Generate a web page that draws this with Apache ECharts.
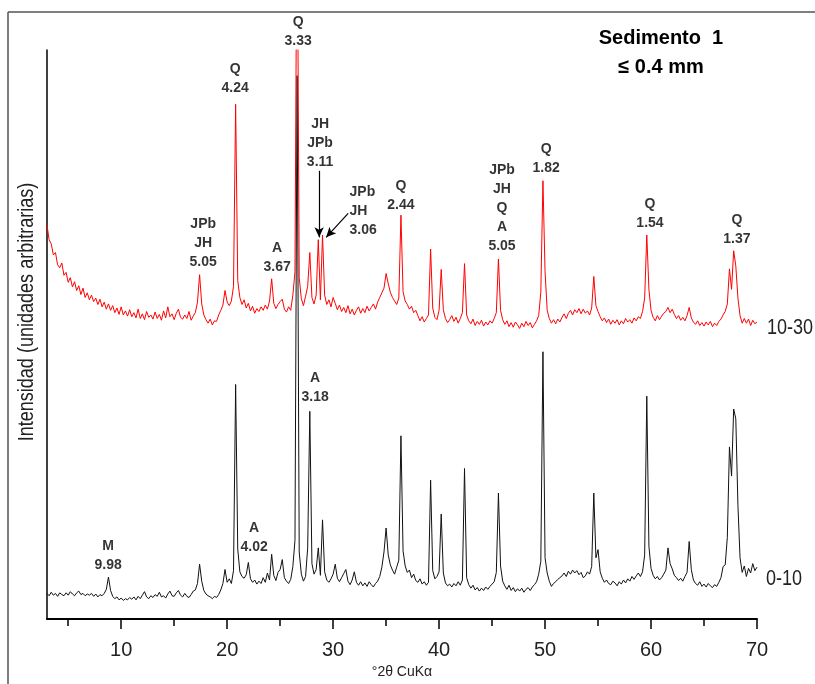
<!DOCTYPE html>
<html>
<head>
<meta charset="utf-8">
<script src="https://cdn.jsdelivr.net/npm/echarts@6/dist/echarts.min.js"></script>
<style>
  html, body { margin: 0; padding: 0; background: #fff; }
  #xrd { width: 815px; height: 684px; }
</style>
</head>
<body>
<div id="xrd"></div>
<script>
// 2θ scan: 3.0° .. 70.0°, one reading every 0.2°
const thetaStart = 3.0
const thetaStep = 0.2

// muestra 0-10 (negro), intensidad arbitraria
const intensity0to10 = [
  6.9, 6.5, 7.1, 6.6, 6.9, 6.4, 7.0, 6.7, 6.5, 7.0,
  6.6, 7.2, 6.8, 6.5, 7.0, 7.3, 6.7, 6.9, 6.5, 6.8,
  6.6, 6.9, 6.4, 6.8, 6.3, 6.7, 6.5, 6.9, 7.6, 9.7,
  7.4, 6.4, 6.0, 6.3, 5.8, 6.1, 5.7, 6.0, 5.8, 6.2,
  5.9, 6.3, 5.8, 6.4, 6.0, 6.6, 7.2, 6.3, 6.0, 6.5,
  6.2, 6.7, 6.4, 7.1, 6.3, 6.5, 6.1, 6.8, 7.3, 6.5,
  6.4, 7.0, 7.4, 6.6, 6.3, 6.9, 6.4, 6.2, 6.7, 7.3,
  7.5, 8.6, 11.9, 9.0, 7.4, 6.8, 6.5, 6.3, 6.0, 6.4,
  6.2, 6.7, 7.5, 8.6, 11.0, 8.8, 9.4, 8.6, 10.8, 42.7,
  14.5, 10.6, 9.8, 9.5, 10.1, 12.2, 9.4, 8.8, 9.2, 8.5,
  9.0, 8.6, 9.6, 8.8, 10.4, 9.2, 13.6, 10.0, 9.1, 10.5,
  11.0, 12.7, 9.6, 9.0, 8.6, 9.3, 11.5, 16.0, 95.6, 14.0,
  10.2, 9.0, 9.8, 14.7, 38.1, 12.0, 10.2, 11.0, 14.7, 10.0,
  19.5, 10.6, 9.2, 8.8, 9.4, 10.2, 11.9, 9.5, 8.9, 9.6,
  10.3, 11.0, 9.0, 8.4, 9.2, 10.6, 8.8, 8.3, 8.9, 8.2,
  8.7, 8.1, 8.9, 8.4, 8.0, 8.6, 9.0, 9.8, 11.4, 14.0,
  18.1, 13.5, 11.8, 10.9, 10.2, 11.4, 12.6, 33.9, 14.2, 11.6,
  10.5, 10.9, 9.6, 10.2, 9.1, 8.8, 9.4, 8.5, 8.9, 8.3,
  8.8, 26.3, 10.8, 9.4, 9.8, 10.6, 20.5, 10.4, 8.7, 8.2,
  8.5, 8.0, 8.6, 8.2, 8.9, 8.3, 9.2, 28.3, 9.6, 8.4,
  7.8, 8.3, 7.5, 7.9, 7.3, 7.8, 7.4, 8.0, 7.6, 8.1,
  8.5, 8.9, 10.5, 24.1, 11.6, 9.0, 8.2, 7.6, 8.3, 7.4,
  7.9, 7.2, 7.7, 7.3, 7.8, 7.1, 7.6, 7.9, 7.4, 8.0,
  8.4, 8.9, 10.2, 12.4, 48.3, 13.0, 10.4, 9.0, 8.1, 8.6,
  8.9, 9.3, 9.6, 9.9, 10.4, 9.8, 10.7, 10.2, 10.9, 10.4,
  10.8, 10.1, 10.5, 9.6, 9.9, 10.6, 10.2, 11.5, 24.1, 13.0,
  14.4, 10.6, 9.5, 8.8, 9.2, 8.6, 8.4, 9.0, 8.7, 8.2,
  8.9, 8.5, 9.2, 8.7, 9.4, 9.0, 9.8, 9.3, 9.9, 10.4,
  9.8, 10.6, 13.5, 40.7, 15.0, 11.2, 10.0, 9.4, 9.8, 9.2,
  9.6, 10.2, 10.9, 14.7, 12.0, 11.1, 10.0, 9.6, 9.1, 9.5,
  9.0, 9.8, 10.5, 15.8, 11.0, 9.2, 8.6, 8.3, 8.9, 8.1,
  8.5, 8.0, 8.6, 8.2, 7.9, 8.4, 8.1, 8.8, 9.6, 11.5,
  11.8, 16.5, 32.0, 27.0, 38.5, 36.8, 22.0, 13.0, 10.5, 11.6,
  9.8, 11.2, 10.4, 12.0, 10.8, 11.4
]

// muestra 10-30 (rojo), desplazada hacia arriba en el gráfico
const intensity10to30 = [
  70.0, 67.5, 66.8, 64.9, 65.3, 63.2, 62.7, 63.5, 61.4, 61.9,
  60.2, 61.0, 59.4, 60.3, 58.8, 59.6, 58.1, 59.2, 57.6, 58.4,
  57.2, 58.0, 56.9, 57.5, 56.4, 57.3, 56.0, 56.8, 55.6, 56.5,
  55.4, 56.2, 55.0, 55.8, 54.7, 56.0, 54.6, 55.3, 54.4, 55.5,
  54.3, 55.0, 54.1, 55.6, 54.0, 54.8, 53.8, 55.2, 54.2, 54.6,
  53.9, 55.1, 54.0, 54.7, 53.7, 55.3, 54.1, 56.0, 54.3, 54.8,
  53.8, 54.9, 55.6, 54.2, 53.9, 54.6, 54.0, 55.2, 53.7, 54.4,
  55.0, 56.8, 61.5, 56.5, 54.6, 53.8, 53.2, 53.9, 52.9, 53.6,
  53.5, 54.6, 55.4, 56.3, 58.8, 56.8, 56.2, 57.0, 59.5, 90.7,
  60.5, 57.6, 56.4, 57.2, 55.8, 56.6, 55.3, 56.1, 54.9, 55.7,
  55.2, 56.0, 55.4, 56.3, 55.6, 57.0, 60.8, 56.6, 55.7, 56.4,
  56.9, 57.3, 55.6, 55.1, 56.0, 55.4, 58.0, 62.0, 130, 61.0,
  57.4, 56.2, 57.8, 59.5, 65.3, 57.6, 56.5, 58.0, 67.5, 57.2,
  68.3, 58.0, 56.4, 57.2, 56.0, 57.6, 56.6, 55.5, 56.3, 55.2,
  55.9, 55.0, 56.2, 54.8, 55.6, 54.6, 55.4, 56.0, 54.9, 55.7,
  55.0, 56.1, 55.3, 55.9, 56.5, 55.6, 56.8, 57.6, 58.4, 59.2,
  61.7, 60.0, 58.5, 57.6, 57.0, 56.4, 57.5, 71.7, 58.6, 57.0,
  56.4, 55.6, 56.1, 55.0, 55.4, 54.5, 53.6, 54.3, 53.4, 54.0,
  54.6, 65.9, 55.8, 54.2, 53.8, 55.4, 62.4, 55.5, 54.0, 53.3,
  53.8, 54.5, 53.5, 54.2, 53.2, 54.0, 55.0, 63.4, 54.6, 53.6,
  53.1, 53.9, 52.8, 53.5, 53.0, 53.7, 52.7, 53.4, 52.9, 53.6,
  53.2, 54.0, 55.0, 64.2, 55.4, 53.8, 53.0, 53.6, 52.6, 53.3,
  52.5, 53.4, 52.9, 52.3, 53.2, 52.6, 53.5, 52.8, 53.3, 52.4,
  53.0, 53.6, 54.5, 58.5, 77.6, 62.0, 55.4, 54.0, 53.2, 53.8,
  53.1, 53.9, 53.4, 54.2, 54.8, 54.0, 54.9, 55.4, 54.6, 55.5,
  55.0, 55.7, 54.8, 55.6, 54.9, 55.3, 54.6, 55.8, 61.2, 56.2,
  55.2, 54.3, 53.6, 54.1, 53.3, 53.9, 53.0, 53.7, 53.2, 53.8,
  52.9, 53.6, 53.1, 54.0, 53.4, 53.8, 53.2, 54.1, 53.6, 54.3,
  54.0, 55.2, 57.5, 68.3, 59.0, 55.4, 54.2, 53.6, 54.5, 53.8,
  54.4, 54.9, 55.2, 55.9, 55.0, 55.6, 54.7, 54.0, 54.5, 53.7,
  54.2, 53.6, 54.5, 55.9, 54.1, 53.4, 53.0, 53.6, 52.8, 53.3,
  52.7, 53.4, 52.9, 53.5, 52.6, 53.2, 52.8, 53.5, 53.9, 54.6,
  55.2, 56.5, 62.5, 59.0, 65.6, 63.0, 57.5, 54.5, 53.2, 54.0,
  53.2, 53.9, 52.8, 53.7, 53.1, 53.4
]

const xTickLabels = [10, 20, 30, 40, 50, 60, 70]
const xMinorTicks = [5, 15, 25, 35, 45, 55, 65]

// identificación de picos: [2θ, intensidad donde apoya el texto, texto]
const peakNotes = [
  [8.77, 10.0, 'M\n9.98'],
  [17.74, 62.0, 'JPb\nJH\n5.05'],
  [20.75, 91.7, 'Q\n4.24'],
  [22.55, 13.2, 'A\n4.02'],
  [24.72, 61.0, 'A\n3.67'],
  [26.7, 99.8, 'Q\n3.33'],
  [28.3, 38.8, 'A\n3.18'],
  [28.77, 79.1, 'JH\nJPb\n3.11'],
  [36.4, 71.7, 'Q\n2.44'],
  [45.94, 64.6, 'JPb\nJH\nQ\nA\n5.05'],
  [50.1, 78.1, 'Q\n1.82'],
  [59.9, 68.6, 'Q\n1.54'],
  [68.1, 65.9, 'Q\n1.37']
]
// esta etiqueta va a la derecha de su flecha
const sideNote = [31.6, 67.4, 'JPb\nJH\n3.06']

// flechas [desde, hasta] en (2θ, intensidad)
const arrows = [
  [[28.68, 79.3], [28.68, 67.9]],
  [[31.42, 72.0], [29.34, 67.9]]
]

const toPairs = arr => arr.map((v, i) => [Math.round((thetaStart + i * thetaStep) * 10) / 10, v])

const sans = '"Liberation Sans", Arial, sans-serif'

const chart = echarts.init(document.getElementById('xrd'))

const option = {
  animation: false,
  grid: { left: 47, right: 58, top: 50, bottom: 59 },
  xAxis: [
    {
      type: 'value',
      min: 3,
      max: 70,
      name: '°2θ CuKα',
      nameLocation: 'middle',
      nameGap: 43,
      nameTextStyle: { fontFamily: sans, fontSize: 14, color: '#222' },
      axisLine: { lineStyle: { color: '#000', width: 2 } },
      axisTick: { customValues: xTickLabels, length: 10, lineStyle: { color: '#000', width: 1.5 } },
      axisLabel: { customValues: xTickLabels, margin: 21, fontFamily: sans, fontSize: 20, color: '#222' },
      splitLine: { show: false }
    },
    {
      type: 'value',
      min: 3,
      max: 70,
      position: 'bottom',
      axisLine: { show: false },
      axisTick: { customValues: xMinorTicks, length: 7, lineStyle: { color: '#000', width: 1.5 } },
      axisLabel: { show: false },
      splitLine: { show: false }
    }
  ],
  yAxis: {
    type: 'value',
    min: 2.5,
    max: 100,
    axisLine: { show: true, lineStyle: { color: '#000', width: 1.5 } },
    axisTick: { show: false },
    axisLabel: { show: false },
    splitLine: { show: false }
  },
  series: [
    {
      name: '0-10',
      type: 'line',
      data: toPairs(intensity0to10),
      showSymbol: false,
      lineStyle: { color: '#111', width: 1 },
      z: 2
    },
    {
      name: '10-30',
      type: 'line',
      data: toPairs(intensity10to30),
      showSymbol: false,
      lineStyle: { color: '#ff0000', width: 1 },
      z: 3,
      markLine: {
        silent: true,
        symbol: ['none', 'arrow'],
        symbolSize: [7, 10],
        label: { show: false },
        lineStyle: { color: '#000', width: 1.2, type: 'solid' },
        data: arrows.map(([a, b]) => [{ coord: a }, { coord: b }])
      }
    },
    {
      name: 'picos',
      type: 'scatter',
      symbolSize: 1,
      itemStyle: { color: 'rgba(0,0,0,0)' },
      silent: true,
      z: 5,
      data: peakNotes.map(p => ({ value: p }))
        .concat([{ value: sideNote, label: { position: [0, 0], align: 'left', verticalAlign: 'bottom' } }]),
      label: {
        show: true,
        position: 'top',
        distance: 0,
        formatter: p => p.value[2],
        fontFamily: sans,
        fontWeight: 'bold',
        fontSize: 14,
        lineHeight: 19,
        color: '#000'
      }
    }
  ],
  graphic: [
    { type: 'line', shape: { x1: 8, y1: 12, x2: 8, y2: 684 }, style: { stroke: '#555', lineWidth: 1.5 } },
    { type: 'line', shape: { x1: 8, y1: 12, x2: 815, y2: 12 }, style: { stroke: '#555', lineWidth: 1.5 } },
    {
      type: 'text', x: 661, y: 38,
      style: { text: 'Sedimento  1', font: 'bold 20px ' + sans, fill: '#000', textAlign: 'center', textVerticalAlign: 'middle' }
    },
    {
      type: 'text', x: 661, y: 67,
      style: { text: '≤ 0.4 mm', font: 'bold 20px ' + sans, fill: '#000', textAlign: 'center', textVerticalAlign: 'middle' }
    },
    {
      type: 'text', x: 767, y: 328, scaleX: 0.82,
      style: { text: '10-30', font: '22px ' + sans, fill: '#222', textAlign: 'left', textVerticalAlign: 'middle' }
    },
    {
      type: 'text', x: 766, y: 579, scaleX: 0.82,
      style: { text: '0-10', font: '22px ' + sans, fill: '#222', textAlign: 'left', textVerticalAlign: 'middle' }
    },
    {
      type: 'text', x: 27, y: 312, rotation: Math.PI / 2, scaleX: 0.82,
      style: { text: 'Intensidad (unidades arbitrarias)', font: '22px ' + sans, fill: '#222', textAlign: 'center', textVerticalAlign: 'middle' }
    }
  ]
}

chart.setOption(option)
</script>
</body>
</html>
